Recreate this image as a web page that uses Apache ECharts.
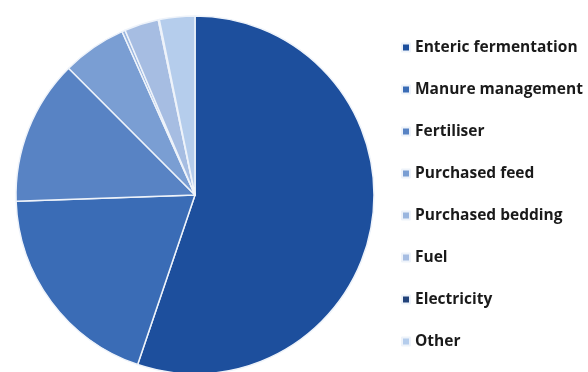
<!DOCTYPE html>
<html>
<head>
<meta charset="utf-8">
<script src="https://cdn.jsdelivr.net/npm/echarts@6/dist/echarts.min.js"></script>
<style>
  html, body { margin: 0; padding: 0; background: #fff; }
  #chart { width: 588px; height: 372px; }
</style>
</head>
<body>
<div id="chart"></div>
<script>
  // emission sources and their shares (%)
  const categories = ['Enteric fermentation', 'Manure management', 'Fertiliser', 'Purchased feed',
    'Purchased bedding', 'Fuel', 'Electricity', 'Other']
  const values = [55.3, 19.3, 13.1, 5.8, 0.3, 3.1, 0.1, 3.2]
  const colors = ['#1d4f9d', '#3a6cb6', '#5883c4', '#7a9ed3', '#9ab6df', '#a6bde2', '#22427a', '#b5cdec']

  const myChart = echarts.init(document.getElementById('chart'))
  const option = {
    animation: false,
    color: colors,
    legend: {
      orient: 'vertical',
      left: 396,
      top: 34,
      icon: 'rect',
      itemWidth: 8,
      itemHeight: 8,
      itemGap: 25,
      textStyle: {
        fontFamily: 'Open Sans',
        fontWeight: 'bold',
        fontSize: 15.5,
        lineHeight: 17,
        color: '#1a1a1a'
      },
      data: categories
    },
    series: [
      {
        type: 'pie',
        center: [195, 195],
        radius: 179,
        startAngle: 90,
        clockwise: true,
        label: { show: false },
        labelLine: { show: false },
        itemStyle: { borderColor: '#eef3fa', borderWidth: 1.5 },
        data: categories.map((name, i) => ({ name: name, value: values[i] }))
      }
    ]
  }
  myChart.setOption(option)
</script>
</body>
</html>
